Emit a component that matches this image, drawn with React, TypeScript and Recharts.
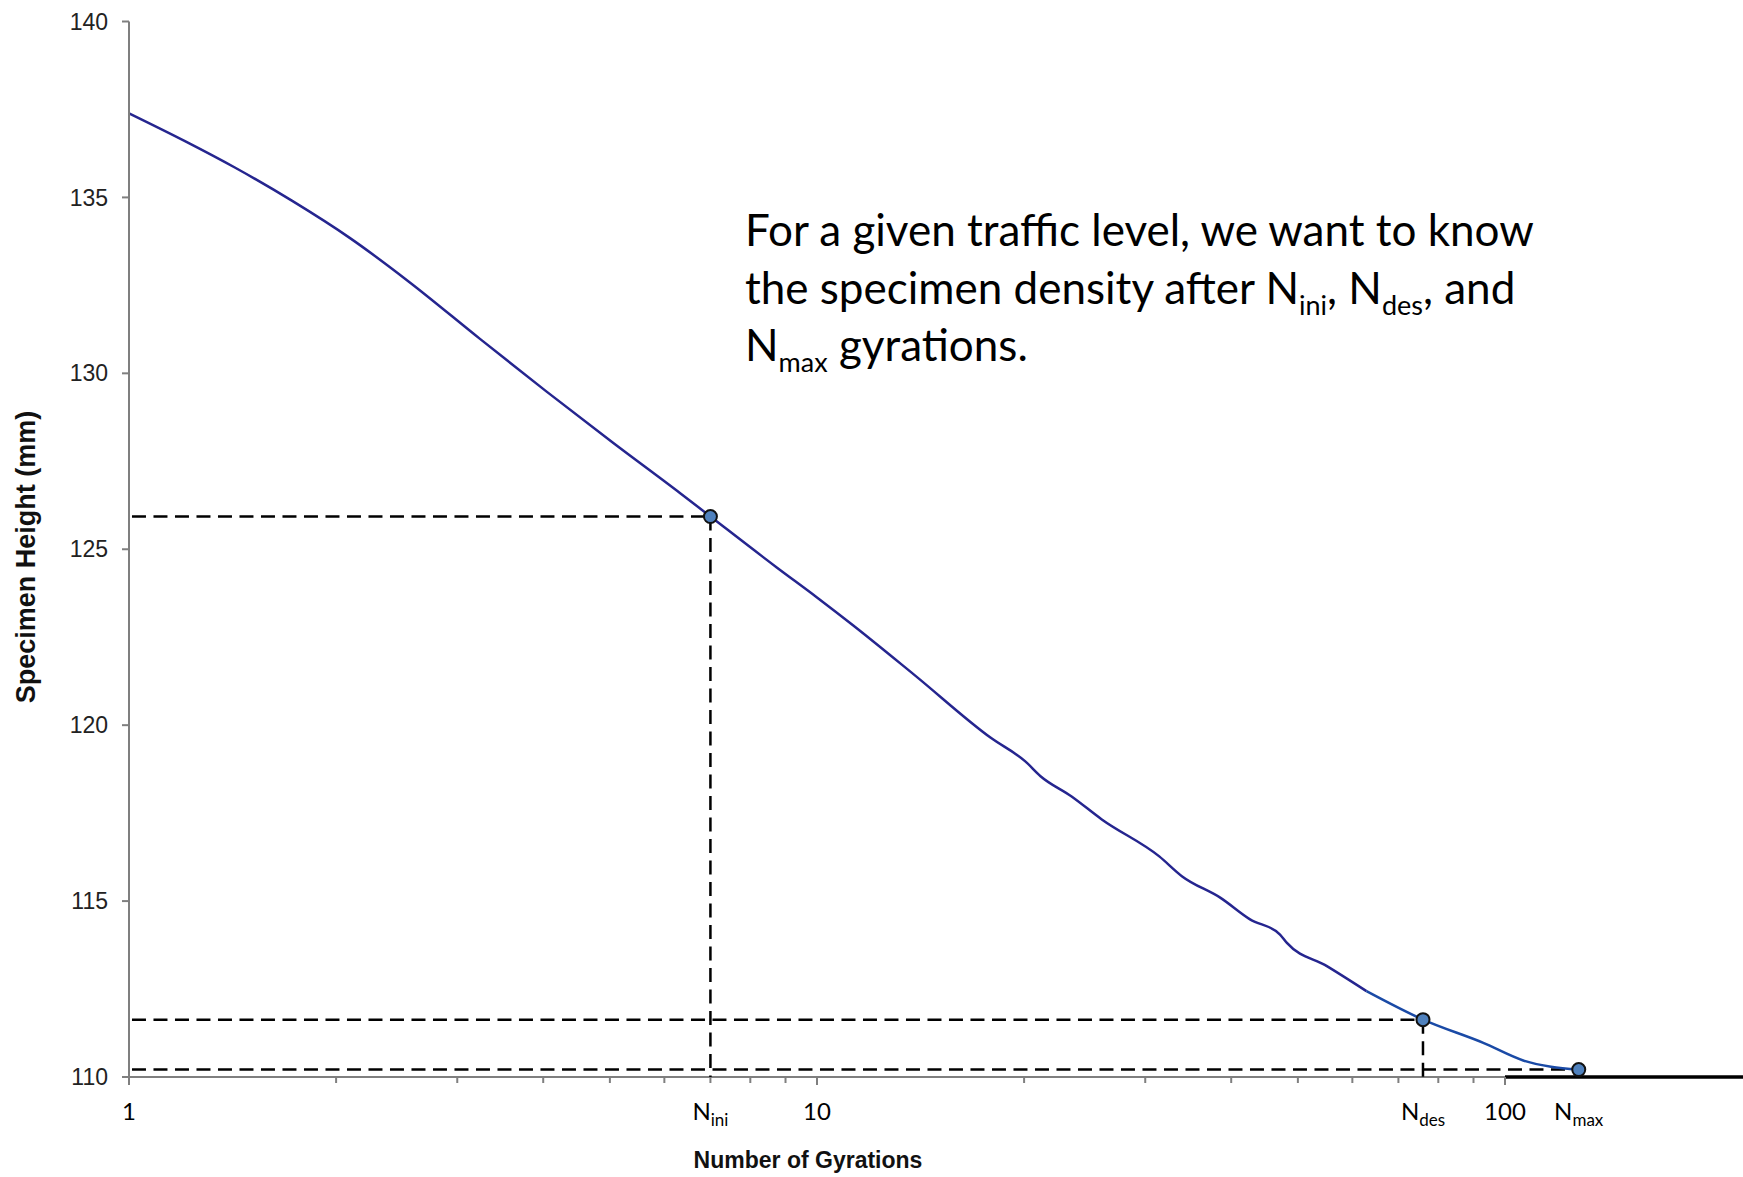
import React from 'react';
import { ComposedChart, Line, Scatter, XAxis, YAxis, ReferenceLine } from 'recharts';

// Compaction curve: specimen height vs. number of gyrations (log scale)
const gyrations = [1, 1.206, 1.425, 1.727, 2.093, 2.546, 3.237, 4.046, 5.058, 6.32, 7, 8.73, 10, 11.28, 13.85, 17.89, 20.08, 21.13, 23.42, 25.94, 31.44, 33.95, 38.6, 42.6, 47.1, 48.2, 55.1, 62.9];
const heights = [137.39, 136.6, 135.85, 134.9, 133.85, 132.62, 130.98, 129.48, 128.02, 126.6, 125.93, 124.49, 123.63, 122.84, 121.43, 119.64, 118.97, 118.55, 117.98, 117.32, 116.27, 115.7, 115.09, 114.48, 114.05, 113.81, 113.15, 112.44];

// Final stretch of the curve up to N max
const tailGyrations = [62.9, 76, 93, 106.3, 128];
const tailHeights = [112.44, 111.63, 110.97, 110.47, 110.21];

// Key gyration levels
const keyNames = ['ini', 'des', 'max'];
const keyGyrations = [7, 76, 128];
const keyHeights = [125.93, 111.63, 110.21];

const yTicks = [110, 115, 120, 125, 130, 135, 140];
const decadeTicks = [1, 10, 100];
const minorTicks = [2, 3, 4, 5, 6, 7, 8, 9, 20, 30, 40, 50, 60, 70, 80, 90];
const xMax = 221.8;

const curveData = gyrations.map((n, i) => ({ n, h: heights[i] }));
const tailData = tailGyrations.map((n, i) => ({ n, h: tailHeights[i] }));
const keyData = keyGyrations.map((n, i) => ({ n, h: keyHeights[i], name: keyNames[i] }));
const xTicks = Array.from(new Set([...decadeTicks, ...minorTicks, ...keyGyrations])).sort((a, b) => a - b);

const AXIS_GRAY = '#7f7f7f';
const LABEL_FONT = 'Lato, "Open Sans", sans-serif';
const ARIAL = '"Liberation Sans", Arial, sans-serif';

const XTick = (props: any) => {
  const { x, y, payload } = props;
  const v = payload.value;
  const isMajor = decadeTicks.includes(v);
  const isMinor = minorTicks.includes(v);
  const k = keyGyrations.indexOf(v);
  return (
    <g>
      {(isMajor || isMinor) && (
        <line x1={x} x2={x} y1={y} y2={y + (isMajor ? 8 : 6)} stroke={AXIS_GRAY} strokeWidth={2} />
      )}
      {isMajor && (
        <text x={x} y={y + 43} textAnchor="middle" fontFamily={LABEL_FONT} fontSize={24} fill="#000">
          {v}
        </text>
      )}
      {k >= 0 && (
        <text x={x} y={y + 43} textAnchor="middle" fontFamily={LABEL_FONT} fontSize={24} fill="#000">
          N<tspan fontSize={17} dy={6}>{keyNames[k]}</tspan>
        </text>
      )}
    </g>
  );
};

const KeyDot = (props: any) => {
  const { cx, cy } = props;
  return <circle cx={cx} cy={cy} r={6.5} fill="#4f81bd" stroke="#111" strokeWidth={2} />;
};

const dash = '14 7.5';

export default function App() {
  return (
    <div style={{ position: 'absolute', left: 0, top: 0, width: 1743, height: 1177, background: '#fff' }}>
      <ComposedChart width={1743} height={1177} margin={{ top: 21.5, right: 0, bottom: 0, left: 0 }}>
        <XAxis
          dataKey="n"
          type="number"
          scale="log"
          domain={[1, xMax]}
          allowDataOverflow
          ticks={xTicks}
          interval={0}
          height={100}
          axisLine={false}
          tickLine={false}
          tickSize={0}
          tickMargin={0}
          tick={<XTick />}
        />
        <YAxis
          type="number"
          domain={[110, 140]}
          ticks={yTicks}
          width={129}
          axisLine={{ stroke: AXIS_GRAY, strokeWidth: 2 }}
          tickLine={{ stroke: AXIS_GRAY, strokeWidth: 2 }}
          tickSize={7}
          tickMargin={14}
          tick={{ fill: '#222', fontSize: 23, fontFamily: ARIAL }}
        />
        {/* bottom axis: gray up to 100, heavy black beyond */}
        <ReferenceLine segment={[{ x: 1, y: 110 }, { x: 100, y: 110 }]} stroke={AXIS_GRAY} strokeWidth={2} ifOverflow="visible" />
        <ReferenceLine segment={[{ x: 100, y: 110 }, { x: xMax, y: 110 }]} stroke="#000" strokeWidth={3.5} ifOverflow="visible" />
        {/* guide lines to the key gyration levels */}
        {keyData.map((d) => (
          <ReferenceLine
            key={'h' + d.name}
            segment={[{ x: 1.01, y: d.h }, { x: d.n, y: d.h }]}
            stroke="#000"
            strokeWidth={2.5}
            strokeDasharray={dash}
            ifOverflow="visible"
          />
        ))}
        {keyData.slice(0, 2).map((d) => (
          <ReferenceLine
            key={'v' + d.name}
            segment={[{ x: d.n, y: d.h }, { x: d.n, y: 110 }]}
            stroke="#000"
            strokeWidth={2.5}
            strokeDasharray={dash}
            ifOverflow="visible"
          />
        ))}
        <Line data={curveData} dataKey="h" type="monotone" stroke="#25258f" strokeWidth={2.5} dot={false} activeDot={false} isAnimationActive={false} />
        <Line data={tailData} dataKey="h" type="monotone" stroke="#1a4aa6" strokeWidth={2.5} dot={false} activeDot={false} isAnimationActive={false} />
        <Scatter data={keyData} dataKey="h" shape={<KeyDot />} isAnimationActive={false} />
      </ComposedChart>
      <svg width={1743} height={1177} style={{ position: 'absolute', left: 0, top: 0, pointerEvents: 'none' }}>
        <text x={808} y={1168} textAnchor="middle" fontFamily={ARIAL} fontWeight="bold" fontSize={23} fill="#111">
          Number of Gyrations
        </text>
        <text
          x={35}
          y={557}
          textAnchor="middle"
          transform="rotate(-90 35 557)"
          fontFamily={ARIAL}
          fontWeight="bold"
          fontSize={27}
          fill="#111"
        >
          Specimen Height (mm)
        </text>
        <g fontFamily={LABEL_FONT} fontSize={44} fill="#000">
          <text x={745} y={246}>For a given traffic level, we want to know</text>
          <text x={745} y={303.5}>
            the specimen density after N<tspan fontSize={27} dy={11}>ini</tspan>
            <tspan dy={-11}>, N</tspan>
            <tspan fontSize={27} dy={11}>des</tspan>
            <tspan dy={-11}>, and</tspan>
          </text>
          <text x={745} y={361}>
            N<tspan fontSize={27} dy={11}>max</tspan>
            <tspan dy={-11}> gyrations.</tspan>
          </text>
        </g>
      </svg>
    </div>
  );
}
